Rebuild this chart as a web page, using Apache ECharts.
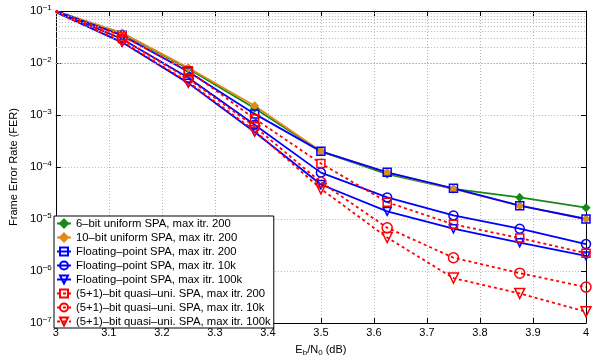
<!DOCTYPE html>
<html>
<head>
<meta charset="utf-8">
<script src="https://cdn.jsdelivr.net/npm/echarts@6/dist/echarts.min.js"></script>
<style>html,body{margin:0;padding:0;background:#fff;}#c{width:593px;height:362px;}</style>
</head>
<body>
<div id="c"></div>
<script>
const xValues = [3, 3.125, 3.25, 3.375, 3.5, 3.625, 3.75, 3.875, 4];
const xTicks = ['3','3.1','3.2','3.3','3.4','3.5','3.6','3.7','3.8','3.9','4'];
const names = [
  '6–bit uniform SPA, max itr. 200',
  '10–bit uniform SPA, max itr. 200',
  'Floating–point SPA, max itr. 200',
  'Floating–point SPA, max itr. 10k',
  'Floating–point SPA, max itr. 100k',
  '(5+1)–bit quasi–uni. SPA, max itr. 200',
  '(5+1)–bit quasi–uni. SPA, max itr. 10k',
  '(5+1)–bit quasi–uni. SPA, max itr. 100k'
];
const uni6_200   = [0.1, 0.037, 0.0078, 0.00135, 2.0e-4, 7.3e-5, 3.8e-5, 2.6e-5, 1.65e-5];
const uni10_200  = [0.1, 0.038, 0.0081, 0.0015, 2.0e-4, 7.8e-5, 3.8e-5, 1.8e-5, 1.0e-5];
const float_200  = [0.1, 0.034, 0.0068, 0.00105, 2.0e-4, 7.9e-5, 3.9e-5, 1.8e-5, 1.0e-5];
const float_10k  = [0.1, 0.029, 0.0052, 6.5e-4, 7.8e-5, 2.6e-5, 1.17e-5, 6.5e-6, 3.3e-6];
const float_100k = [0.095, 0.025, 0.0041, 4.7e-4, 4.6e-5, 1.4e-5, 6.5e-6, 3.5e-6, 1.95e-6];
const quasi_200  = [0.1, 0.033, 0.0071, 8.5e-4, 1.17e-4, 2.1e-5, 7.9e-6, 4.3e-6, 2.2e-6];
const quasi_10k  = [0.1, 0.029, 0.0050, 6.0e-4, 5.1e-5, 6.8e-6, 1.8e-6, 9.1e-7, 4.9e-7];
const quasi_100k = [0.095, 0.026, 0.0043, 5.0e-4, 3.8e-5, 4.4e-6, 7.3e-7, 3.7e-7, 1.65e-7];

const GREEN = '#17891a', ORANGE = '#e08a1a', BLUE = '#0000ff', RED = '#ff0000';
const TRI_DOWN = 'path://M0,0 L10,0 L5,9 Z';
const FONT = 'Liberation Sans, Arial, Helvetica, sans-serif';

function pts(arr) {
  return arr.map((v, i) => i === 0 ? {value: [xValues[i], v], symbolSize: 0} : [xValues[i], v]);
}
function mk(name, arr, color, symbol, size, dotted, filled) {
  return {
    name: name, type: 'line', data: pts(arr), symbol: symbol, symbolSize: size,
    clip: true, z: 3,
    lineStyle: {color: color, width: 1.8, type: dotted ? [3, 3] : 'solid'},
    itemStyle: {color: filled ? color : 'rgba(0,0,0,0)', borderColor: color, borderWidth: 1.5},
    emphasis: {disabled: true}
  };
}

// minor grid values (2..9 x 10^e)
const minorVals = [];
for (let e = -7; e <= -2; e++) for (let k = 2; k <= 9; k++) minorVals.push(k * Math.pow(10, e));

const series = [
  mk(names[0], uni6_200, GREEN, 'diamond', 7, false, true),
  mk(names[1], uni10_200, ORANGE, 'diamond', 7, false, true),
  mk(names[2], float_200, BLUE, 'rect', 8, false, false),
  mk(names[3], float_10k, BLUE, 'circle', 9, false, false),
  mk(names[4], float_100k, BLUE, TRI_DOWN, 8, false, false),
  mk(names[5], quasi_200, RED, 'rect', 8, true, false),
  mk(names[6], quasi_10k, RED, 'circle', 10, true, false),
  mk(names[7], quasi_100k, RED, TRI_DOWN, 10, true, false),
  {
    name: 'minorgrid', type: 'line', data: [], z: 1, silent: true,
    markLine: {
      silent: true, symbol: 'none', animation: false,
      label: {show: false},
      lineStyle: {color: '#b4b4b4', width: 1, type: [1, 2]},
      data: minorVals.map(v => ({yAxis: v}))
    }
  }
];

const chart = echarts.init(document.getElementById('c'), null, {renderer: 'canvas'});
chart.setOption({
  animation: false,
  backgroundColor: '#fff',
  textStyle: {fontFamily: FONT},
  grid: {left: 53, right: 7, top: 11, bottom: 32, show: false},
  legend: {
    data: names, orient: 'vertical', left: 54, top: 216,
    backgroundColor: '#fff', borderColor: '#000', borderWidth: 1, borderRadius: 0,
    padding: [2, 3, 1, 2], itemGap: 3, itemWidth: 14, itemHeight: 10,
    textStyle: {fontSize: 11.3, color: '#000', fontFamily: FONT, lineHeight: 11},
    selectedMode: false, z: 10
  },
  xAxis: [{
    type: 'value', min: 3, max: 4, interval: 0.1,
    name: '{n|E}{sub|b}{n|/N}{sub|0}{n| (dB)}', nameLocation: 'middle', nameGap: 20,
    nameTextStyle: {rich: {n: {fontSize: 11, color: '#000', fontFamily: FONT}, sub: {fontSize: 8, color: '#000', fontFamily: FONT, padding: [6, 0, 0, 0]}}},
    axisLine: {lineStyle: {color: '#000', width: 1}},
    axisTick: {inside: true, length: 5, lineStyle: {color: '#000'}},
    axisLabel: {fontSize: 11, color: '#000', margin: 4, formatter: (v) => xTicks[Math.round((v - 3) * 10)]},
    splitLine: {show: true, lineStyle: {color: '#b4b4b4', type: [1, 2], width: 1}}
  }, {
    type: 'value', min: 3, max: 4, interval: 0.1, position: 'top',
    axisLine: {show: true, lineStyle: {color: '#000', width: 1}},
    axisTick: {show: true, inside: true, length: 5, lineStyle: {color: '#000'}},
    axisLabel: {show: false}, splitLine: {show: false}
  }],
  yAxis: [{
    type: 'log', logBase: 10, min: 1e-7, max: 1e-1,
    name: 'Frame Error Rate (FER)', nameLocation: 'middle', nameGap: 31,
    nameTextStyle: {fontSize: 11, color: '#000', fontFamily: FONT},
    axisLine: {show: true, lineStyle: {color: '#000', width: 1}},
    axisTick: {show: true, inside: true, length: 5, lineStyle: {color: '#000'}},
    axisLabel: {
      margin: 4, color: '#000',
      formatter: (v) => {
        const e = Math.round(Math.log10(v));
        return '{b|10}{s|' + (e < 0 ? '−' : '') + Math.abs(e) + '}';
      },
      rich: {b: {fontSize: 11.5, color: '#000', fontFamily: FONT}, s: {fontSize: 8, color: '#000', fontFamily: FONT, padding: [0, 0, 7, 0]}}
    },
    splitLine: {show: true, lineStyle: {color: '#b4b4b4', type: [1, 2], width: 1}}
  }, {
    type: 'log', logBase: 10, min: 1e-7, max: 1e-1, position: 'right',
    axisLine: {show: true, lineStyle: {color: '#000', width: 1}},
    axisTick: {show: true, inside: true, length: 5, lineStyle: {color: '#000'}},
    axisLabel: {show: false}, splitLine: {show: false}
  }],
  series: series
});
</script>
</body>
</html>
